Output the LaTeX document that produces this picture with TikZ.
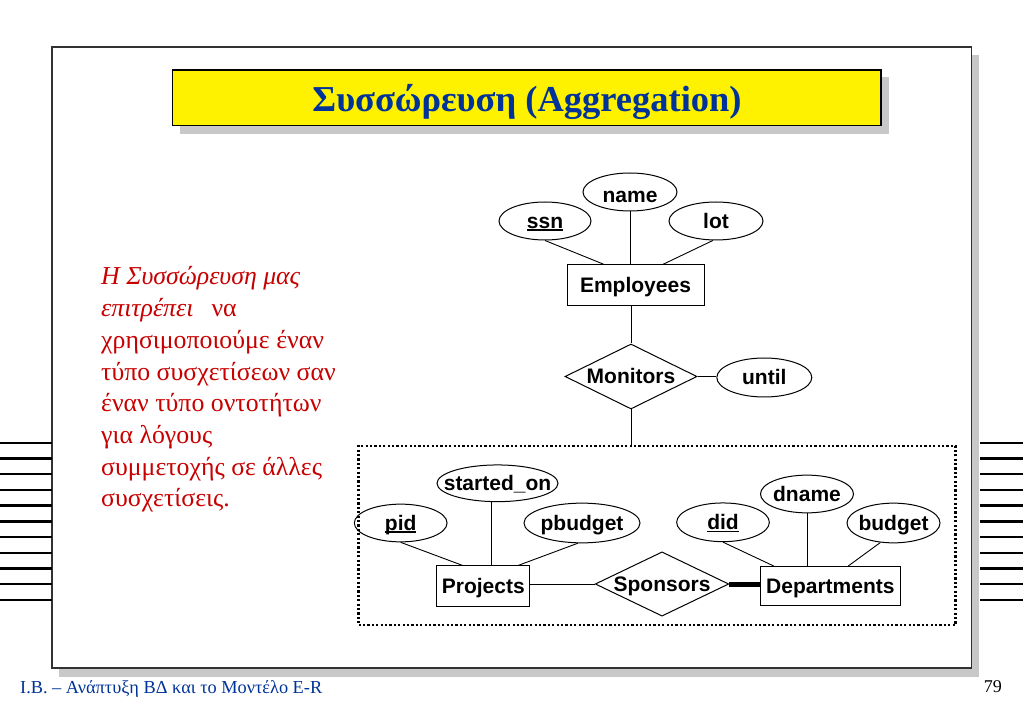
\documentclass[tikz,border=0pt]{standalone}
\usepackage{fontspec}
\setmainfont{Liberation Serif}
\setsansfont{Liberation Sans}
\usetikzlibrary{shapes.geometric,calc}
\definecolor{tblue}{RGB}{0,51,153}
\definecolor{tred}{RGB}{200,0,0}
\definecolor{shgray}{RGB}{200,200,200}
\definecolor{framec}{RGB}{50,50,50}
\newcommand{\zw}[1]{\makebox[0pt]{\smash{#1}\vphantom{E}}}
\newcommand{\ulx}[1]{\setbox0\hbox{#1}\rlap{\smash{\rule[-2.8pt]{\wd0}{1.8pt}}}\box0}
\begin{document}
\begin{tikzpicture}[x=1pt,y=-1pt,
  er/.style={font=\sffamily\bfseries\fontsize{21}{25}\selectfont, inner sep=0pt},
  attr/.style={er, ellipse, draw, line width=1pt},
  ent/.style={er, rectangle, draw, line width=1pt},
  rel/.style={er, diamond, draw, line width=1pt},
  conn/.style={line width=0.9pt},
  lt/.style={font=\fontsize{25.8}{30}\selectfont, text=tred, inner sep=0pt, anchor=base west},
  sideline/.style={line width=2.3pt}
]
\useasboundingbox (0,0) rectangle (1023,708);
\fill[white] (0,0) rectangle (1023,708);
% slide frame with shadow
\fill[shgray] (59,55) rectangle (979,676.5);
\draw[framec, line width=1.5pt, fill=white] (52,47) rectangle (971.5,668);
% side lines
\foreach \k in {0,...,10} {
  \draw[sideline] (0,{442.7+15.73*\k}) -- (52,{442.7+15.73*\k});
  \draw[sideline] (980,{442.7+15.73*\k}) -- (1023,{442.7+15.73*\k});
}
% title
\fill[shgray] (180,77) rectangle (889,134);
\node[draw, fill=yellow, line width=1.2pt, minimum width=708.3, minimum height=55.5, inner sep=0] (title) at (526.85,97.75) {};
\node[font=\bfseries\fontsize{36.5}{40}\selectfont, text=tblue, anchor=base, inner sep=0] (ttext) at (527,112) {Συσσώρευση (Aggregation)};
% left text
\node[lt] (l1) at (101,285) {\textit{Η Συσσώρευση μας}};
\node[lt] (l2) at (101,316.7) {\textit{επιτρέπει}\hspace{18pt}να};
\node[lt] (l3) at (101,348.4) {χρησιμοποιούμε έναν};
\node[lt] (l4) at (101,380.1) {τύπο συσχετίσεων σαν};
\node[lt] (l5) at (101,411.8) {έναν τύπο οντοτήτων};
\node[lt] (l6) at (101,443.5) {για λόγους};
\node[lt] (l7) at (101,475.2) {συμμετοχής σε άλλες};
\node[lt] (l8) at (101,506.9) {συσχετίσεις.};
% footer
\node[font=\fontsize{18.3}{20}\selectfont, text=tblue, anchor=base west, inner sep=0] (foot) at (20,693) {Ι.Β. – Ανάπτυξη ΒΔ και το Μοντέλο E-R};
\node[font=\fontsize{18}{20}\selectfont, anchor=base east, inner sep=0] (pg) at (1002,692) {79};
% ER diagram - upper
\node[attr, minimum width=94, minimum height=38] (name) at (630,192) {\zw{\raisebox{-3pt}{name}}};
\node[attr, minimum width=92, minimum height=38] (ssn) at (545,221) {\zw{\ulx{ssn}}};
\node[attr, minimum width=94, minimum height=38] (lot) at (716,221) {\zw{lot}};
\node[ent, minimum width=137, minimum height=41] (emp) at (635.5,285.3) {\zw{Employees}};
\node[rel, minimum width=132, minimum height=65] (mon) at (631,376.5) {\zw{Monitors}};
\node[attr, minimum width=95, minimum height=39] (until) at (764.3,377.5) {\zw{until}};
% aggregation box
\node[draw, dash pattern=on 2.2pt off 2.2pt, line width=2.2pt, minimum width=597, minimum height=179.3, inner sep=0] (agg) at (657,535.35) {};
% ER diagram - lower
\node[attr, minimum width=121, minimum height=36.7] (started) at (497.5,483.3) {\zw{started\_on}};
\node[attr, minimum width=92.7, minimum height=37.7] (pid) at (400.7,523) {\zw{\ulx{pid}}};
\node[attr, minimum width=116, minimum height=39.7] (pbudget) at (582,523) {\zw{pbudget}};
\node[ent, minimum width=93, minimum height=40.7] (proj) at (483.3,586.3) {\zw{Projects}};
\node[rel, minimum width=133.6, minimum height=64.3] (spon) at (662,584) {\zw{Sponsors}};
\node[ent, minimum width=140, minimum height=39.3] (dept) at (830.4,586.3) {\zw{Departments}};
\node[attr, minimum width=92.7, minimum height=38.7] (did) at (723,522.3) {\zw{\ulx{did}}};
\node[attr, minimum width=93, minimum height=37.7] (dname) at (807,494) {\zw{dname}};
\node[attr, minimum width=93, minimum height=39.7] (budget) at (893.5,523) {\zw{budget}};
% connectors
\draw[conn] (ssn.south) -- ($(emp.north west)!0.27!(emp.north east)$);
\draw[conn] (name.south) -- (name.south |- emp.north);
\draw[conn] (lot.261) -- ($(emp.north west)!0.70!(emp.north east)$);
\draw[conn] (mon.north |- emp.south) -- (mon.north);
\draw[conn] (mon.east) -- (mon.east -| until.west);
\draw[conn] (mon.south) -- (mon.south |- agg.north);
\draw[conn] (pid.south) -- ($(proj.north west)!0.28!(proj.north east)$);
\draw[conn] (started.253) -- (started.253 |- proj.north);
\draw[conn] (pbudget.258) -- ($(proj.north west)!0.87!(proj.north east)$);
\draw[conn] (spon.west) -- (spon.west -| proj.east);
\draw[line width=5pt] (spon.east) -- (spon.east -| dept.west);
\draw[conn] (did.south) -- ($(dept.north west)!0.10!(dept.north east)$);
\draw[conn] (dname.south) -- (dname.south |- dept.north);
\draw[conn] (budget.236) -- ($(dept.north west)!0.625!(dept.north east)$);
\end{tikzpicture}
\end{document}
